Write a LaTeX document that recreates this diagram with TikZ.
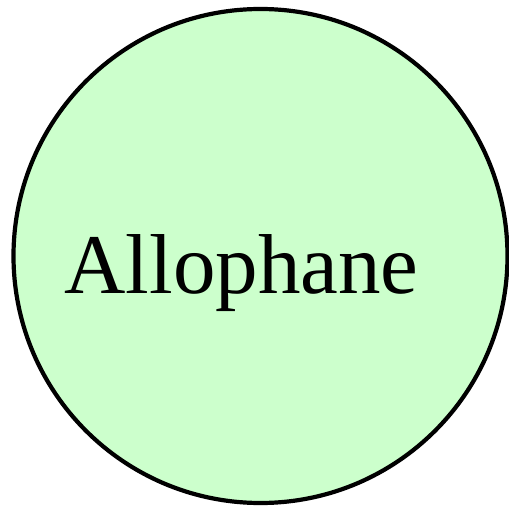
\documentclass[tikz,border=0pt]{standalone}
\usepackage{fontspec}
\setmainfont{Liberation Serif}
\definecolor{fillgreen}{HTML}{CCFFCC}
\begin{document}
\begin{tikzpicture}[x=1pt,y=1pt,
  ballstyle/.style={circle, draw=black, fill=fillgreen, line width=4.2pt, minimum size=494pt, inner sep=0pt},
  labelstyle/.style={font=\fontsize{85}{100}\selectfont, inner sep=0pt, anchor=base}]
\useasboundingbox (0,0) rectangle (509,507);
\node[ballstyle] (ball) at (260.5,251) {};
\node[labelstyle] (lbl) at (241.5,214) {Allophane};
\end{tikzpicture}
\end{document}
